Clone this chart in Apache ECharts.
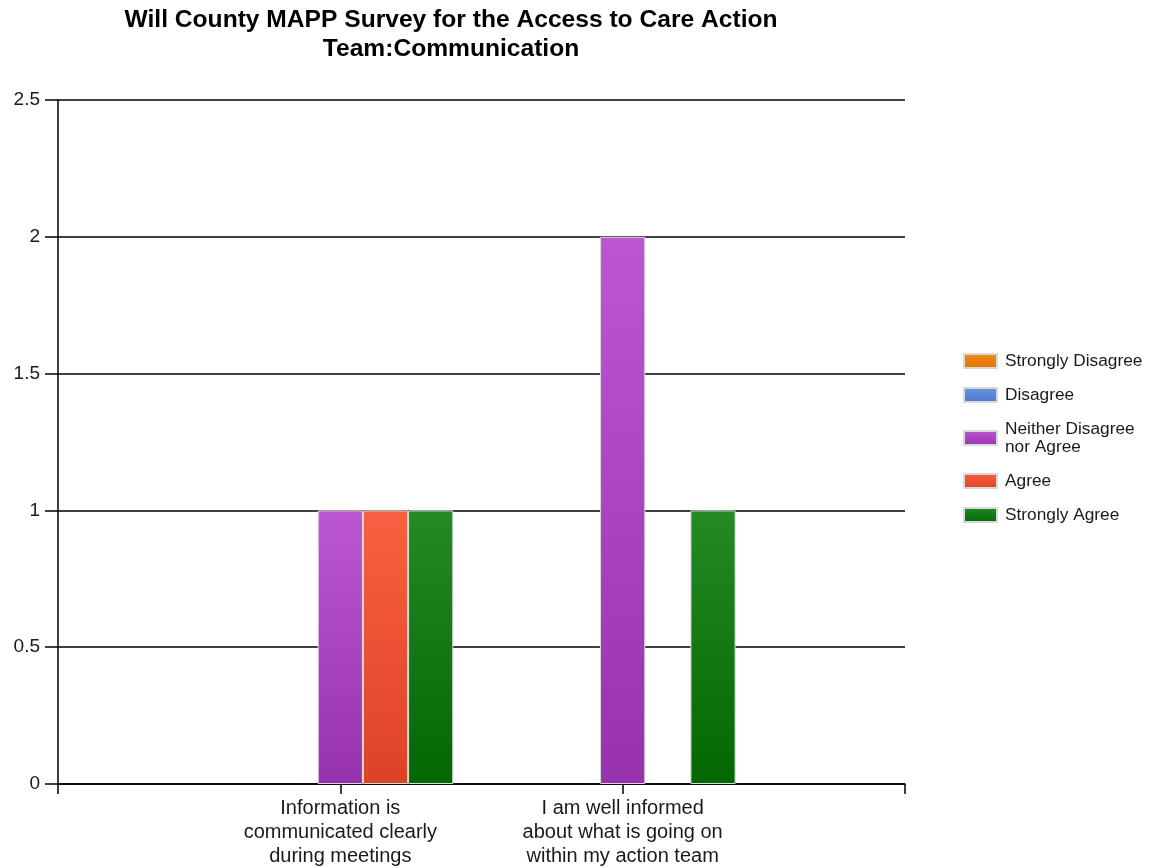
<!DOCTYPE html>
<html>
<head>
<meta charset="utf-8">
<script src="https://cdn.jsdelivr.net/npm/echarts@6/dist/echarts.min.js"></script>
<style>
  html, body { margin: 0; padding: 0; background: #fff; }
  #chart { width: 1150px; height: 868px; }
</style>
</head>
<body>
<div id="chart"></div>
<script>
// Survey statements (blank slots at both ends pad the axis out to its edges)
const statements = [
  '',
  'Information is\ncommunicated clearly\nduring meetings',
  'I am well informed\nabout what is going on\nwithin my action team',
  ''
];

// Response counts per statement
const stronglyDisagree = [0, 0];
const disagree         = [0, 0];
const neither          = [1, 2];
const agree            = [1, 0];
const stronglyAgree    = [1, 1];

const yTicks = [0, 0.5, 1, 1.5, 2, 2.5];

const responses = [
  { name: 'Strongly Disagree',          values: stronglyDisagree, top: '#f28a1a', bottom: '#e07400' },
  { name: 'Disagree',                   values: disagree,         top: '#6a95e0', bottom: '#4a78cc' },
  { name: 'Neither Disagree nor Agree', values: neither,          top: '#bb57d3', bottom: '#9632ae' },
  { name: 'Agree',                      values: agree,            top: '#fb5f41', bottom: '#dc4324' },
  { name: 'Strongly Agree',             values: stronglyAgree,    top: '#248a24', bottom: '#036703' }
];

const FONT = '"Liberation Sans", Arial, sans-serif';

const series = responses.map(r => ({
  name: r.name,
  type: 'bar',
  barGap: '0%',
  barCategoryGap: '20%',
  // zero counts leave an empty slot in the group
  data: ['-'].concat(r.values.map(v => (v === 0 ? '-' : v)), ['-']),
  itemStyle: {
    color: new echarts.graphic.LinearGradient(0, 0, 0, 1, [
      { offset: 0, color: r.top },
      { offset: 1, color: r.bottom }
    ]),
    borderColor: '#d9d9d9',
    borderWidth: 1
  },
  emphasis: { disabled: true }
}));

const chart = echarts.init(document.getElementById('chart'), null, { renderer: 'canvas' });
chart.setOption({
  animation: false,
  backgroundColor: '#ffffff',
  title: {
    text: 'Will County MAPP Survey for the Access to Care Action\nTeam:Communication',
    left: 446,
    textAlign: 'center',
    top: 1,
    textStyle: {
      fontFamily: FONT,
      fontWeight: 'bold',
      fontSize: 24.6,
      lineHeight: 29,
      color: '#000'
    }
  },
  legend: {
    orient: 'vertical',
    left: 963,
    top: 352,
    padding: 0,
    icon: 'rect',
    itemWidth: 33,
    itemHeight: 14,
    itemGap: 16,
    formatter: name => name === 'Neither Disagree nor Agree' ? 'Neither Disagree\nnor Agree' : name,
    textStyle: {
      fontFamily: FONT,
      fontSize: 17.3,
      lineHeight: 18,
      color: '#1a1a1a',
      padding: [0, 0, 0, 3]
    },
    selectedMode: false
  },
  grid: {
    left: 58,
    right: 245,
    top: 100,
    bottom: 84,
    containLabel: false
  },
  xAxis: {
    type: 'category',
    data: statements,
    boundaryGap: false,
    axisLine: { lineStyle: { color: '#000', width: 1.5 } },
    axisTick: { show: true, length: 10, lineStyle: { color: '#000', width: 1.5 } },
    axisLabel: {
      interval: 0,
      margin: 12,
      fontFamily: FONT,
      fontSize: 20,
      lineHeight: 24,
      color: '#1a1a1a'
    },
    splitLine: { show: false }
  },
  yAxis: {
    type: 'value',
    min: yTicks[0],
    max: yTicks[yTicks.length - 1],
    interval: yTicks[1] - yTicks[0],
    axisLine: { show: true, lineStyle: { color: '#000', width: 1.5 } },
    axisTick: { show: true, length: 13, lineStyle: { color: '#000', width: 1.5 } },
    axisLabel: {
      margin: 18,
      fontFamily: FONT,
      fontSize: 19,
      color: '#1a1a1a'
    },
    splitLine: { show: true, lineStyle: { color: '#000', width: 1.5 } }
  },
  series: series
});
</script>
</body>
</html>
